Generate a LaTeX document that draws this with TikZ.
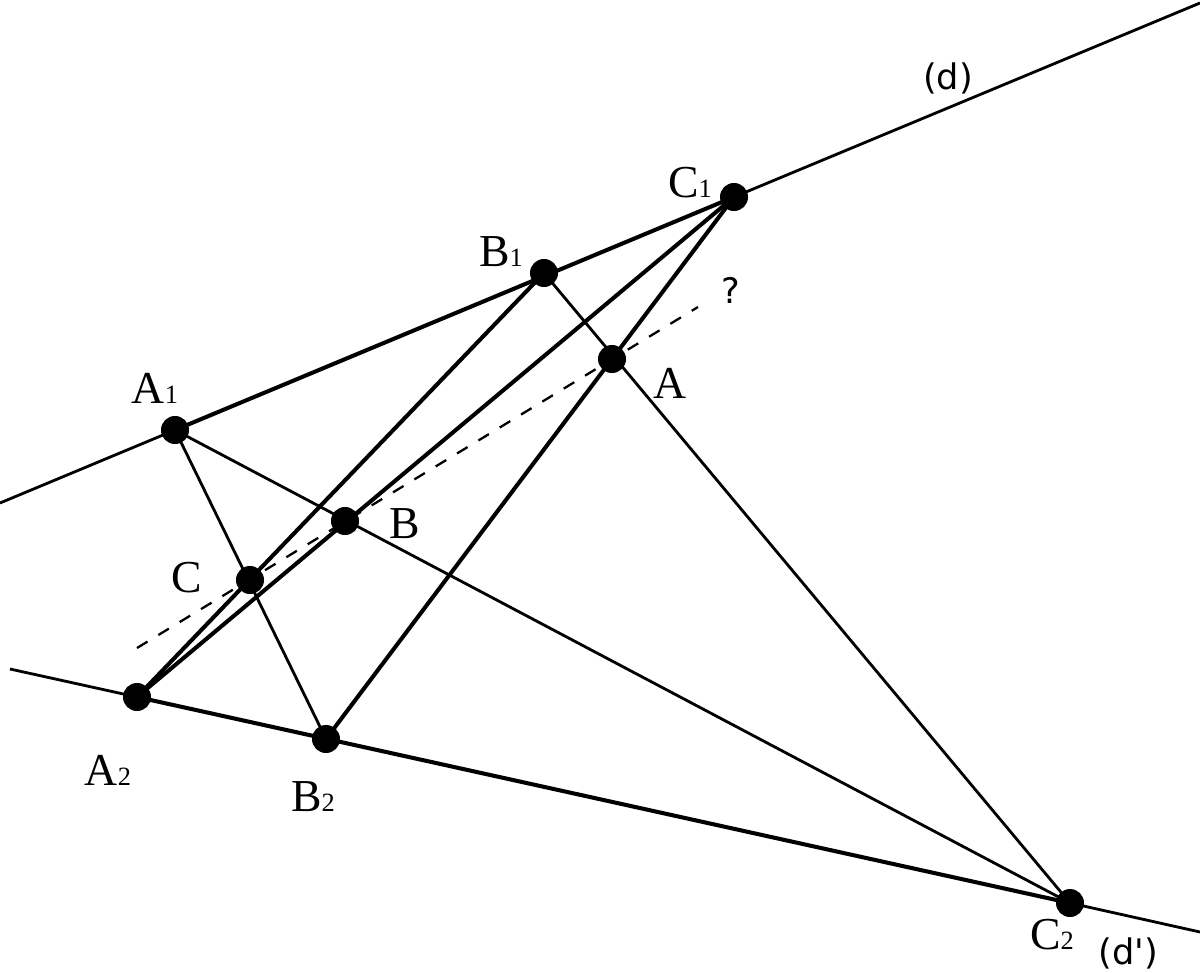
\documentclass[tikz,border=0pt]{standalone}
\usepackage{fontspec}
\setmainfont{Liberation Serif}
\newfontfamily\linefont{DejaVu Sans}
\tikzset{
  dot/.style={circle, fill, inner sep=0pt, minimum size=0.28cm},
  lbl/.style={inner sep=0pt, font=\fontsize{13}{15}\selectfont},
  linelbl/.style={inner sep=0pt, font=\linefont\fontsize{10}{12}\selectfont},
  thin line/.style={line width=0.8pt},
  thick line/.style={line width=1.15pt}
}
\newcommand{\sub}[1]{{\fontsize{7.5}{8}\selectfont #1}}
\begin{document}
\begin{tikzpicture}[x=0.01cm, y=-0.01cm]
\useasboundingbox (0,0) rectangle (1200,973);
\coordinate (A1) at (175,430);
\coordinate (B1) at (544,273);
\coordinate (C1) at (734,197);
\coordinate (A) at (612,359);
\coordinate (B) at (345,521);
\coordinate (C) at (250,580);
\coordinate (A2) at (137,697);
\coordinate (B2) at (326,739);
\coordinate (C2) at (1070,903);
\coordinate (dL) at (0,503);
\coordinate (dR) at (1200,3);
\coordinate (eL) at (10,669);
\coordinate (eR) at (1200,932);
\coordinate (qL) at (137,648);
\coordinate (qR) at (698,307);
\draw[thin line](dL) -- (A1);
\draw[thick line](A1) -- (C1);
\draw[thin line](C1) -- (dR);
\draw[thin line](eL) -- (A2);
\draw[thick line](A2) -- (C2);
\draw[thin line](C2) -- (eR);
\draw[thin line](A1) -- (C2);
\draw[thin line](A1) -- (B2);
\draw[thin line](B1) -- (C2);
\draw[thick line](C1) -- (A2);
\draw[thick line](B1) -- (A2);
\draw[thick line](C1) -- (B2);
\draw[line width=0.65pt, dash pattern=on 3.5pt off 3.6pt](qL) -- (qR);
\foreach \p in {A1,B1,C1,A,B,C,A2,B2,C2}
  \node[dot] (dot\p) at (\p) {};
\node[lbl] (lA1) at (155,388) {A\sub{1}};
\node[lbl] (lB1) at (501,252) {B\sub{1}};
\node[lbl] (lC1) at (690,183) {C\sub{1}};
\node[lbl] (lA) at (670,383) {A};
\node[lbl] (lB) at (405,524) {B};
\node[lbl] (lC) at (187,578) {C};
\node[lbl] (lA2) at (108,770) {A\sub{2}};
\node[lbl] (lB2) at (313,797) {B\sub{2}};
\node[lbl] (lC2) at (1052,935) {C\sub{2}};
\node[linelbl] (ld) at (948,78) {(d)};
\node[linelbl] (le) at (1128,953) {(d')};
\node[linelbl] (lq) at (731,290) {?};
\end{tikzpicture}
\end{document}
